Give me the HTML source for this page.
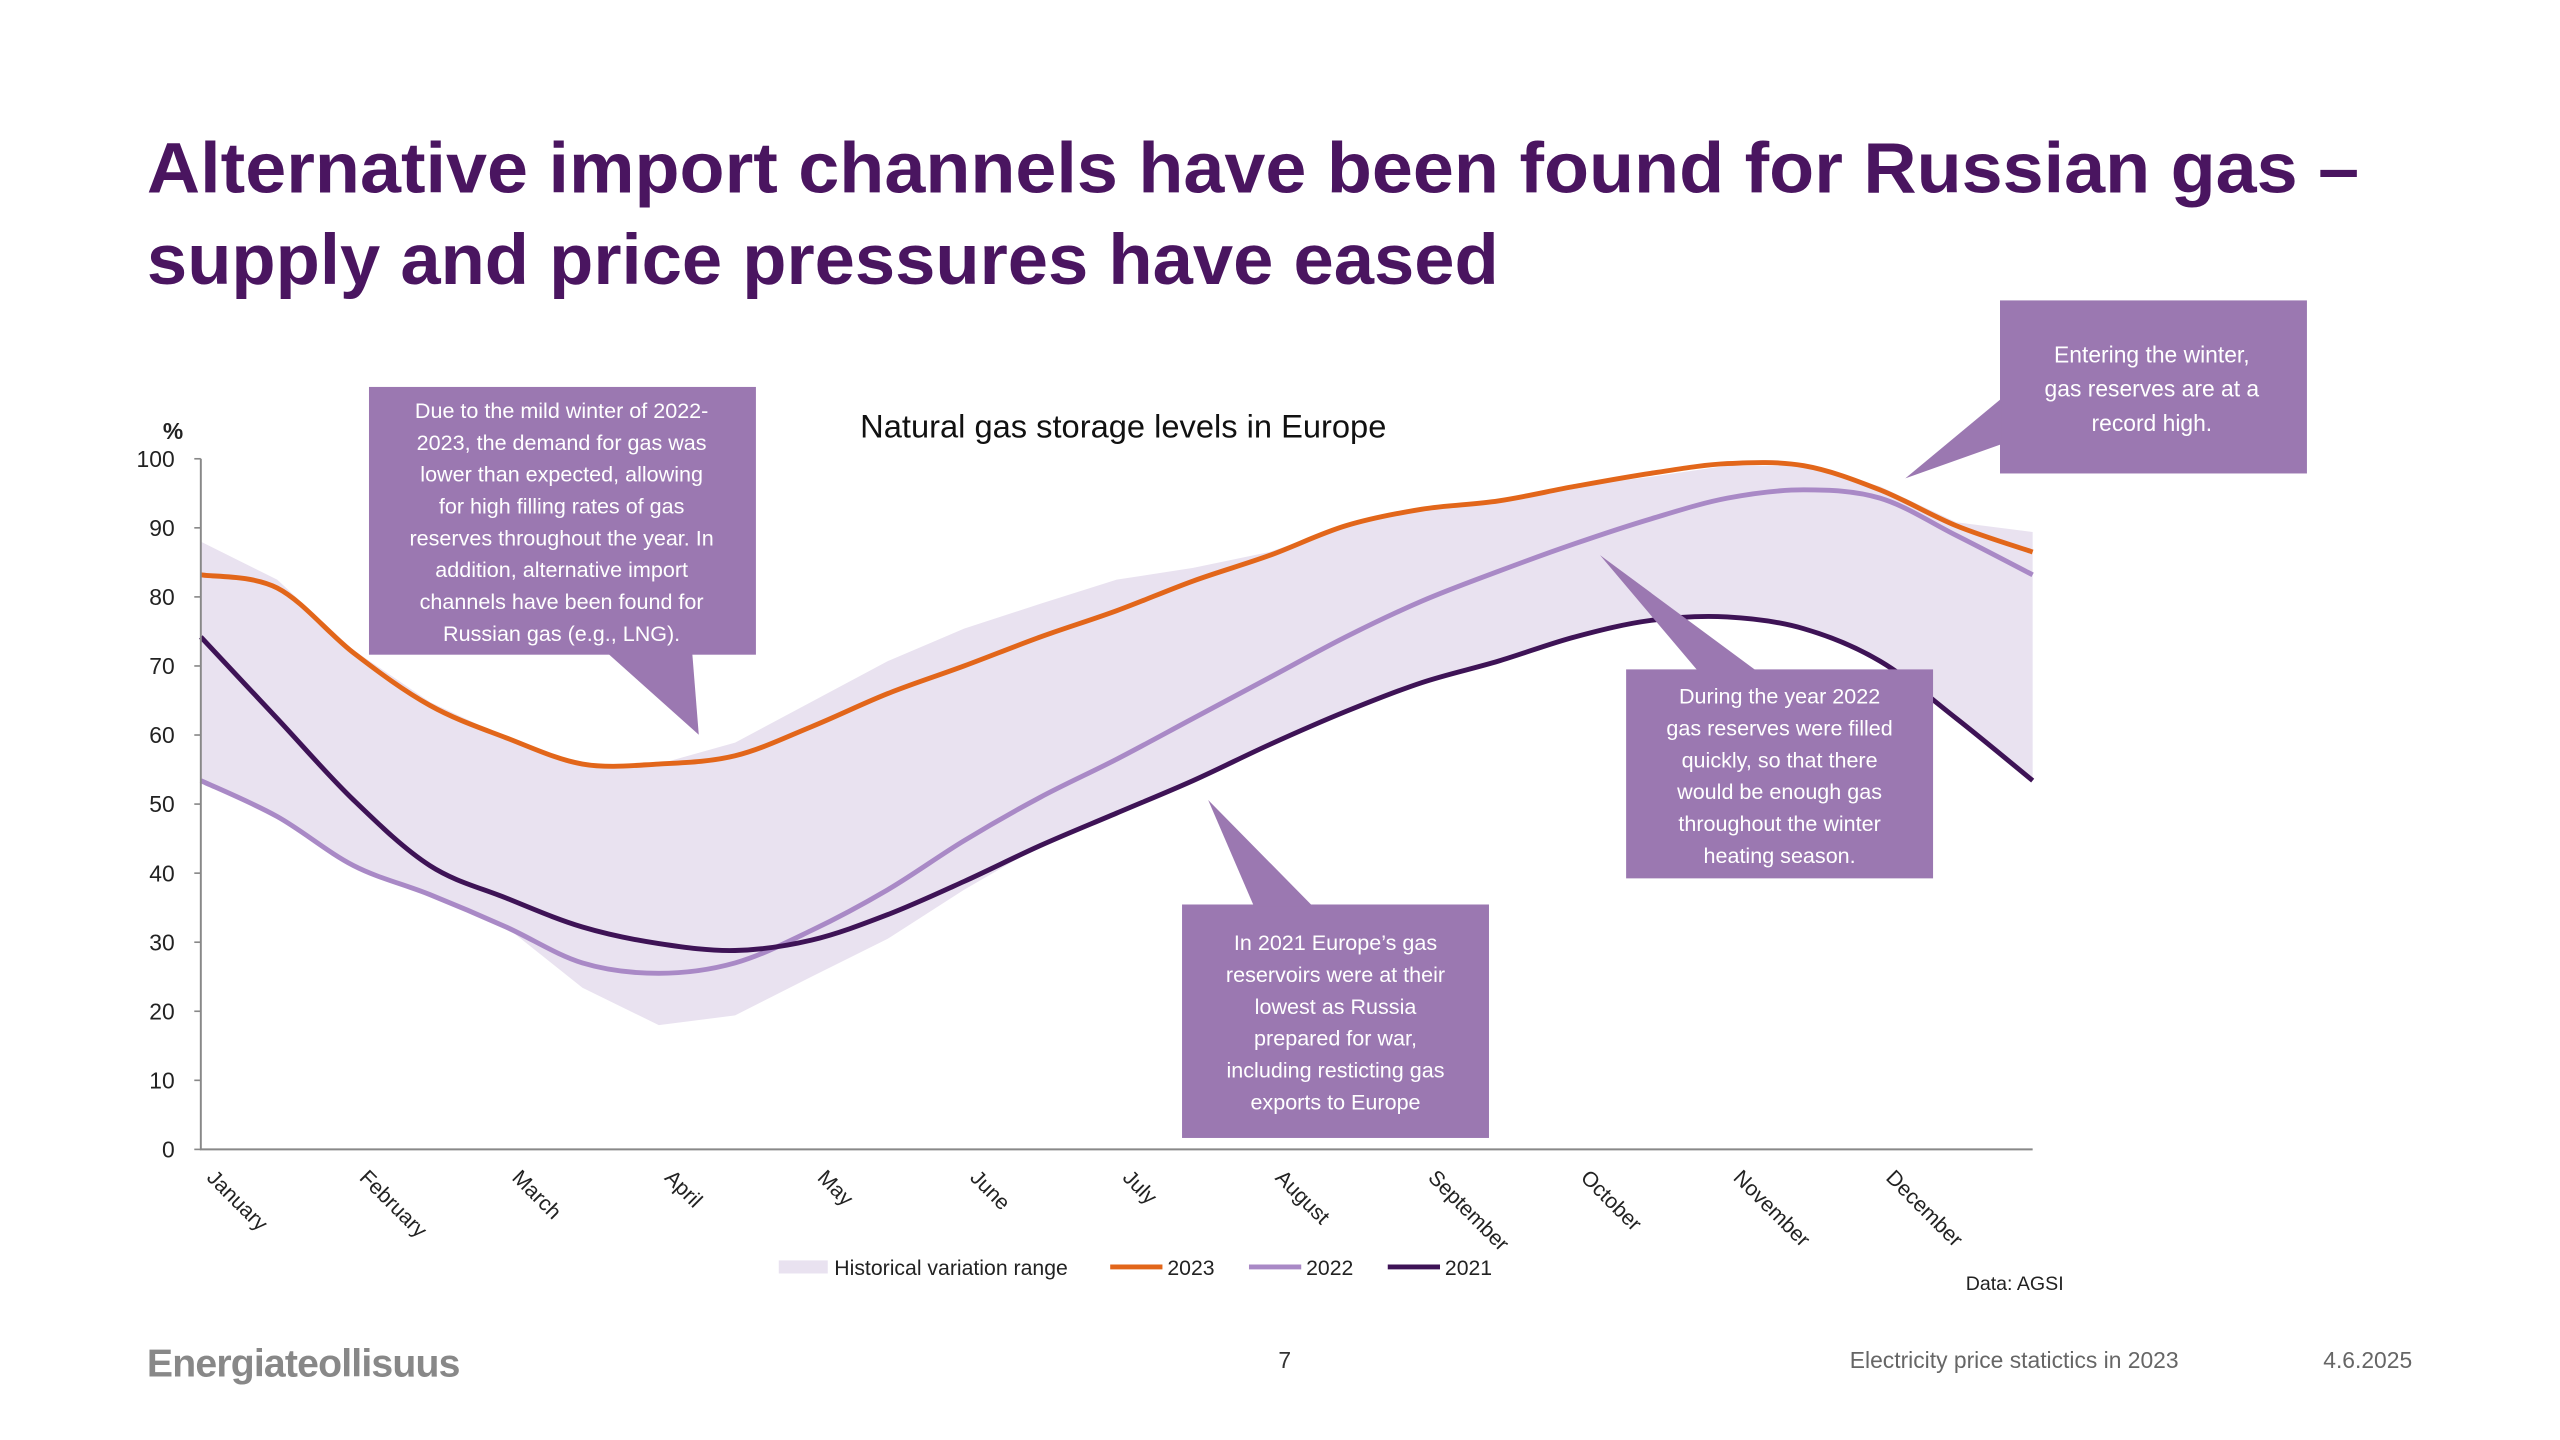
<!DOCTYPE html>
<html><head><meta charset="utf-8"><style>
html,body{margin:0;padding:0;background:#fff;}
svg{display:block;font-family:"Liberation Sans",sans-serif;}
</style></head><body>
<svg id="slide" width="2560" height="1440" viewBox="0 0 1568 882">
<g fill="#4a1560" font-weight="bold" font-size="44">
<text x="90" y="118" textLength="1355" lengthAdjust="spacingAndGlyphs">Alternative import channels have been found for Russian gas –</text>
<text x="90" y="174" textLength="828" lengthAdjust="spacingAndGlyphs">supply and price pressures have eased</text>
</g>
<text x="688" y="268" text-anchor="middle" font-size="20" fill="#111">Natural gas storage levels in Europe</text>
<g id="plot"></g>
<g font-size="13" fill="#222">
<rect x="477" y="772" width="30" height="8" fill="#e9e2f0"/>
<text x="511" y="781">Historical variation range</text>
<line x1="680" y1="776" x2="712" y2="776" stroke="#e2661a" stroke-width="3"/>
<text x="715" y="781">2023</text>
<line x1="765" y1="776" x2="797" y2="776" stroke="#a989c6" stroke-width="3"/>
<text x="800" y="781">2022</text>
<line x1="850" y1="776" x2="882" y2="776" stroke="#3e1356" stroke-width="3"/>
<text x="885" y="781">2021</text>
</g>
<text x="1204" y="790" font-size="12" fill="#222">Data: AGSI</text>
<g fill="#9b78b1">
<g>
<rect x="226" y="237" width="237" height="164"/><polygon points="372,400 424,400 428,450"/>
<text fill="#fff" font-size="13.2" text-anchor="middle"><tspan x="344" y="256">Due to the mild winter of 2022-</tspan><tspan x="344" y="275.5">2023, the demand for gas was</tspan><tspan x="344" y="295">lower than expected, allowing</tspan><tspan x="344" y="314.5">for high filling rates of gas</tspan><tspan x="344" y="334">reserves throughout the year. In</tspan><tspan x="344" y="353.5">addition, alternative import</tspan><tspan x="344" y="373">channels have been found for</tspan><tspan x="344" y="392.5">Russian gas (e.g., LNG).</tspan></text>
</g>
<g>
<rect x="724" y="554" width="188" height="143"/><polygon points="768,555 804,555 740,490"/>
<text fill="#fff" font-size="13.2" text-anchor="middle"><tspan x="818" y="582">In 2021 Europe’s gas</tspan><tspan x="818" y="601.5">reservoirs were at their</tspan><tspan x="818" y="621">lowest as Russia</tspan><tspan x="818" y="640.5">prepared for war,</tspan><tspan x="818" y="660">including resticting gas</tspan><tspan x="818" y="679.5">exports to Europe</tspan></text>
</g>
<g>
<rect x="996" y="410" width="188" height="128"/><polygon points="1040,411 1076,411 980,340"/>
<text fill="#fff" font-size="13.2" text-anchor="middle"><tspan x="1090" y="431">During the year 2022</tspan><tspan x="1090" y="450.5">gas reserves were filled</tspan><tspan x="1090" y="470">quickly, so that there</tspan><tspan x="1090" y="489.5">would be enough gas</tspan><tspan x="1090" y="509">throughout the winter</tspan><tspan x="1090" y="528.5">heating season.</tspan></text>
</g>
<g>
<rect x="1225" y="184" width="188" height="106"/><polygon points="1226,244 1226,272 1167,293"/>
<text fill="#fff" font-size="14" text-anchor="middle"><tspan x="1318" y="222">Entering the winter,</tspan><tspan x="1318" y="243">gas reserves are at a</tspan><tspan x="1318" y="264">record high.</tspan></text>
</g>
</g>
<g fill="#666" font-size="14">
<text x="90" y="843" font-size="24" font-weight="bold" fill="#888" letter-spacing="-0.5">Energiateollisuus</text>
<text x="783" y="838" fill="#333">7</text>
<text x="1133" y="838">Electricity price statictics in 2023</text>
<text x="1423" y="838">4.6.2025</text>
</g>
</svg>
<script>
const months = ["January","February","March","April","May","June","July","August","September","October","November","December"];
const yTicks = [0,10,20,30,40,50,60,70,80,90,100];
// values sampled every half month (t = 0 .. 12)
const rangeUpper = [88,82.5,72.3,64.8,59.6,55.8,55.8,58.9,64.8,70.7,75.4,79,82.5,84.2,86.5,90.3,92.7,94,96,97.4,99,99,96,90.8,89.4];
const rangeLower = [53.4,48.2,41.1,36.9,32.2,23.4,18,19.4,25,30.5,37.6,44,48.7,53.4,58.6,63.4,67.6,70.7,74.2,76.6,77.1,75.4,70.7,62.4,53.4];
const series2023 = [83.2,81.3,71.9,64.3,59.6,55.8,55.8,57,61.2,66,70,74.2,78,82.3,86,90.3,92.7,93.9,96,97.9,99.3,99,95.5,90.3,86.5];
const series2022 = [53.4,48.2,41.1,36.9,32.2,27,25.5,27,31.7,37.6,44.7,51,56.5,62.4,68.3,74.2,79.4,83.7,87.7,91.3,94.3,95.5,94.3,88.9,83.2];
const series2021 = [74.2,62.4,50.6,41.1,36.4,32.2,29.8,28.8,30.3,34,38.8,44,48.7,53.4,58.6,63.4,67.6,70.7,74.2,76.6,77.1,75.4,70.7,62.4,53.4];

const NS="http://www.w3.org/2000/svg";
const X0=123,X1=1245,Y0=704,Y100=281;
const xS=t=>X0+(X1-X0)*t/12;
const yS=v=>Y0-(Y0-Y100)*v/100;
const plot=document.getElementById('plot');
function mk(tag,attrs){const e=document.createElementNS(NS,tag);for(const k in attrs)e.setAttribute(k,attrs[k]);return e;}
const tOf=i=>i*0.5;
let d="";
rangeUpper.forEach((v,i)=>{d+=(i?"L":"M")+xS(tOf(i))+","+yS(v);});
for(let i=rangeLower.length-1;i>=0;i--)d+="L"+xS(tOf(i))+","+yS(rangeLower[i]);
const band=mk('path',{d:d+"Z",fill:"#e9e2f0"});


plot.appendChild(band);
function line(arr,color,name){
  const pts=arr.map((v,i)=>[xS(tOf(i)),yS(v)]);
  let p="M"+pts[0];
  for(let i=0;i<pts.length-1;i++){
    const a=pts[Math.max(0,i-1)],b=pts[i],c=pts[i+1],e=pts[Math.min(pts.length-1,i+2)];
    p+="C"+(b[0]+(c[0]-a[0])/6)+","+(b[1]+(c[1]-a[1])/6)+" "+(c[0]-(e[0]-b[0])/6)+","+(c[1]-(e[1]-b[1])/6)+" "+c[0]+","+c[1];
  }
  const el=mk('path',{d:p,fill:"none",stroke:color,"stroke-width":3,"stroke-linejoin":"round"});
  
  
  plot.appendChild(el);
}
line(series2022,"#a989c6","line-2022");
line(series2021,"#3e1356","line-2021");
line(series2023,"#e2661a","line-2023");
const ax=mk('path',{d:`M${X0},${Y100}V${Y0}H${X1}`,fill:"none",stroke:"#888","stroke-width":1.2});


plot.appendChild(ax);
yTicks.forEach(v=>{
  const t=mk('text',{x:107,y:yS(v)+5,"text-anchor":"end","font-size":14,fill:"#222"});
  t.textContent=v;
  
  
  plot.appendChild(t);
  const tk=mk('line',{x1:X0-4,x2:X0,y1:yS(v),y2:yS(v),stroke:"#888"});
  
  
  plot.appendChild(tk);
});
const pct=mk('text',{x:106,y:269,"text-anchor":"middle","font-size":14,"font-weight":"bold",fill:"#222"});
pct.textContent="%";


plot.appendChild(pct);
months.forEach((m,i)=>{
  const x=xS(i)+3,y=722;
  const t=mk('text',{x:x,y:y,"font-size":13,fill:"#222",transform:`rotate(45 ${x} ${y})`});
  t.textContent=m;
  
  
  plot.appendChild(t);
});
</script>
</body></html>
